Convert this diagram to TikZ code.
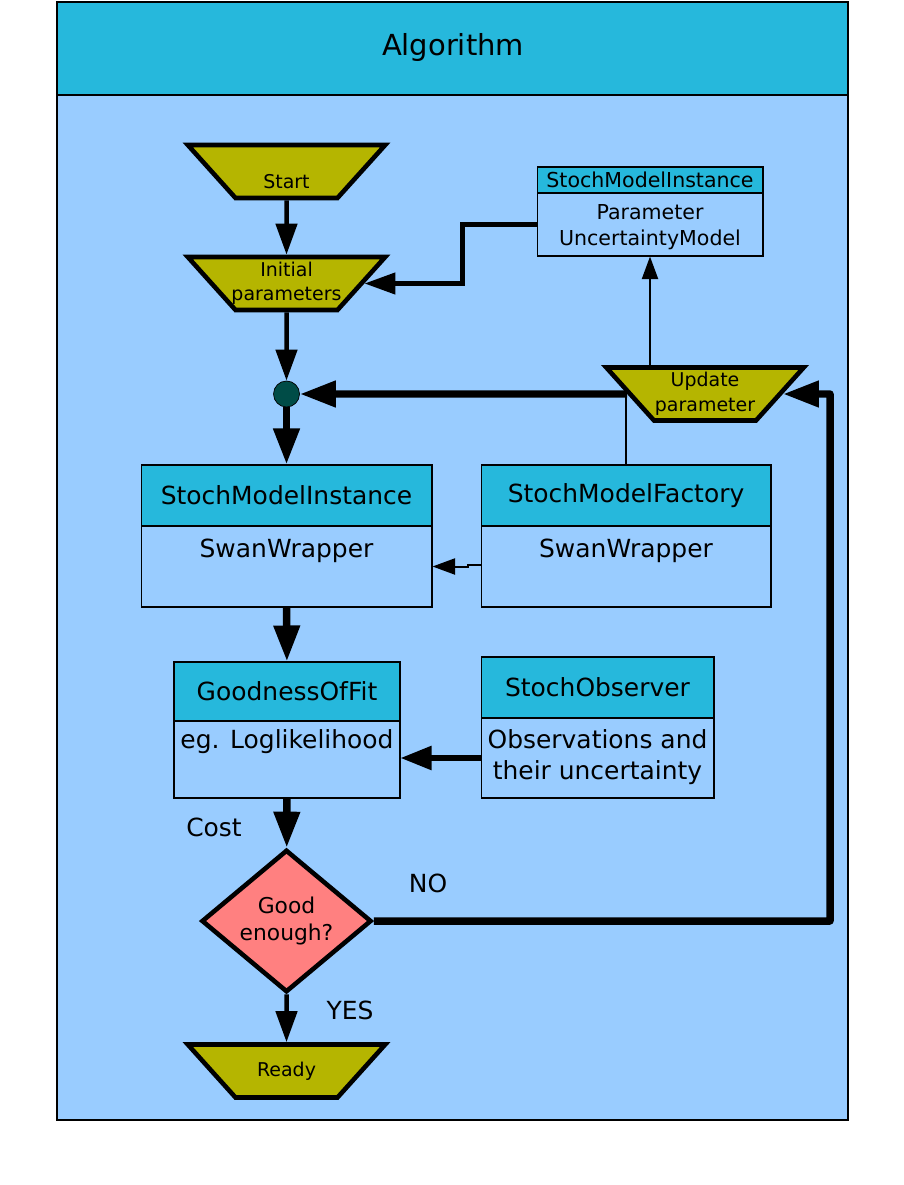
\documentclass[tikz,border=0pt]{standalone}
\usepackage{fontspec}
\setmainfont{DejaVu Sans}
\usetikzlibrary{shapes.geometric,arrows.meta}

\definecolor{hdrcyan}{RGB}{38,184,220}
\definecolor{bgblue}{RGB}{153,204,255}
\definecolor{termolive}{RGB}{181,181,0}
\definecolor{dotteal}{RGB}{0,76,71}
\definecolor{decsalmon}{RGB}{255,128,128}

\newcommand{\titlefont}{\fontsize{16.5}{20}\selectfont}
\newcommand{\boxfont}{\fontsize{14.2}{17.6}\selectfont}
\newcommand{\smallboxfont}{\fontsize{11.7}{14.8}\selectfont}
\newcommand{\termfont}{\fontsize{10.8}{14.2}\selectfont}
\newcommand{\decfont}{\fontsize{12.4}{15.8}\selectfont}
% fixed text box so every terminal gets the same slope
\newcommand{\termtext}[1]{\parbox[c][1.06cm][c]{2.04cm}{\makebox[2.04cm]{\raisebox{-0.05cm}{\begin{tabular}{@{}c@{}}#1\end{tabular}}}}}

\tikzset{
  term/.style={trapezium, trapezium left angle=48, trapezium right angle=48,
    shape border rotate=180, draw, line width=2.6pt, fill=termolive,
    inner sep=0pt, font=\termfont},
  hdr/.style={draw, fill=hdrcyan, inner sep=0pt, line width=0.6pt, font=\boxfont},
  bdy/.style={draw, fill=bgblue, inner sep=0pt, line width=0.6pt},
  decision/.style={diamond, draw, line width=2.6pt, fill=decsalmon, minimum width=3.4cm,
    minimum height=2.8cm, inner sep=0pt, align=center, font=\decfont},
  fatarr/.style={line width=0.15cm, -{Triangle[length=0.72cm,width=0.5cm]}},
  midarr/.style={line width=0.11cm, -{Triangle[length=0.62cm,width=0.46cm]}},
  arr/.style={line width=0.09cm, -{Triangle[length=0.62cm,width=0.42cm]}},
  thinarr/.style={line width=0.04cm, -{Triangle[length=0.45cm,width=0.32cm]}},
}

\begin{document}
\begin{tikzpicture}[x=0.02cm, y=-0.02cm]
\useasboundingbox[fill=white] (0,0) rectangle (903,1185);
% frame
\draw[line width=0.6pt, fill=bgblue] (57,2) rectangle (848,1120);
\draw[line width=0.6pt, fill=hdrcyan] (57,2) rectangle (848,95);
\node[font=\titlefont] (title) at (453,48) {Algorithm};

% flow
\node[term] (start) at (286.5,171.5) {\termtext{\\Start}};
\node[term] (init) at (286.5,283.5) {\termtext{Initial\\parameters}};
\node[circle, draw, fill=dotteal, minimum size=0.52cm, inner sep=0pt] (dot) at (286.5,394) {};
\node[term] (upd) at (705,394) {\termtext{Update\\parameter}};

\node[hdr, minimum width=4.52cm, minimum height=0.52cm, font=\smallboxfont] (smih) at (650,180) {StochModelInstance};
\node[bdy] (smib) at (650,224.5) {\parbox[t][1.26cm][t]{4.52cm}{\centering\smallboxfont\vspace*{0.23cm}Parameter\\UncertaintyModel}};

\node[hdr, minimum width=5.82cm, minimum height=1.22cm] (insth) at (286.5,495.5) {StochModelInstance};
\node[bdy] (instb) at (286.5,566.5) {\parbox[t][1.62cm][t]{5.82cm}{\centering\boxfont\vspace*{0.26cm}SwanWrapper}};
\node[hdr, minimum width=5.8cm, minimum height=1.22cm] (fach) at (626,495.5) {StochModelFactory};
\node[bdy] (facb) at (626,566.5) {\parbox[t][1.62cm][t]{5.8cm}{\centering\boxfont\vspace*{0.26cm}SwanWrapper}};

\node[hdr, minimum width=4.52cm, minimum height=1.18cm] (gofh) at (287,691.5) {GoodnessOfFit};
\node[bdy] (gofb) at (287,759.5) {\parbox[t][1.54cm][t]{4.52cm}{\centering\boxfont\vspace*{0.18cm}eg. Loglikelihood}};
\node[hdr, minimum width=4.66cm, minimum height=1.22cm] (obsh) at (597.5,687.5) {StochObserver};
\node[bdy] (obsb) at (597.5,758) {\parbox[t][1.6cm][t]{4.66cm}{\centering\boxfont\vspace*{0.24cm}Observations and\\their uncertainty}};

\node[decision] (good) at (286.5,921) {Good\\enough?};
\node[term] (ready) at (286.5,1071) {\termtext{Ready}};

\node[font=\boxfont] (cost) at (214,827) {Cost};
\node[font=\boxfont] (no) at (428,883) {NO};
\node[font=\boxfont] (yes) at (350,1010) {YES};
\coordinate (back) at (830,394);

% connectors
\draw[arr] (start) -- (init);
\draw[arr] (init) -- (dot);
\draw[fatarr] (dot) -- (insth);
\draw[fatarr] (upd.west) -- (dot);
\draw[line width=0.04cm] (fach.north) -- (fach.north |- upd.west);
\draw[thinarr] (smib.south |- upd.north) -- (smib.south);
\draw[arr] (smib.west) -- ++(-74,0) |- (init.east);
\draw[thinarr] (facb.west) ++(0,-2) -- ++(-13,0) |- (instb.east);
\draw[fatarr] (instb) -- (gofh);
\draw[midarr] (obsb.west) -- (obsb.west -| gofb.east);
\draw[fatarr] (gofb) -- (good);
\draw[arr] (good) -- (ready);
\draw[fatarr, line join=round] (good.east) -| (back) -- (upd.east);
\end{tikzpicture}
\end{document}
